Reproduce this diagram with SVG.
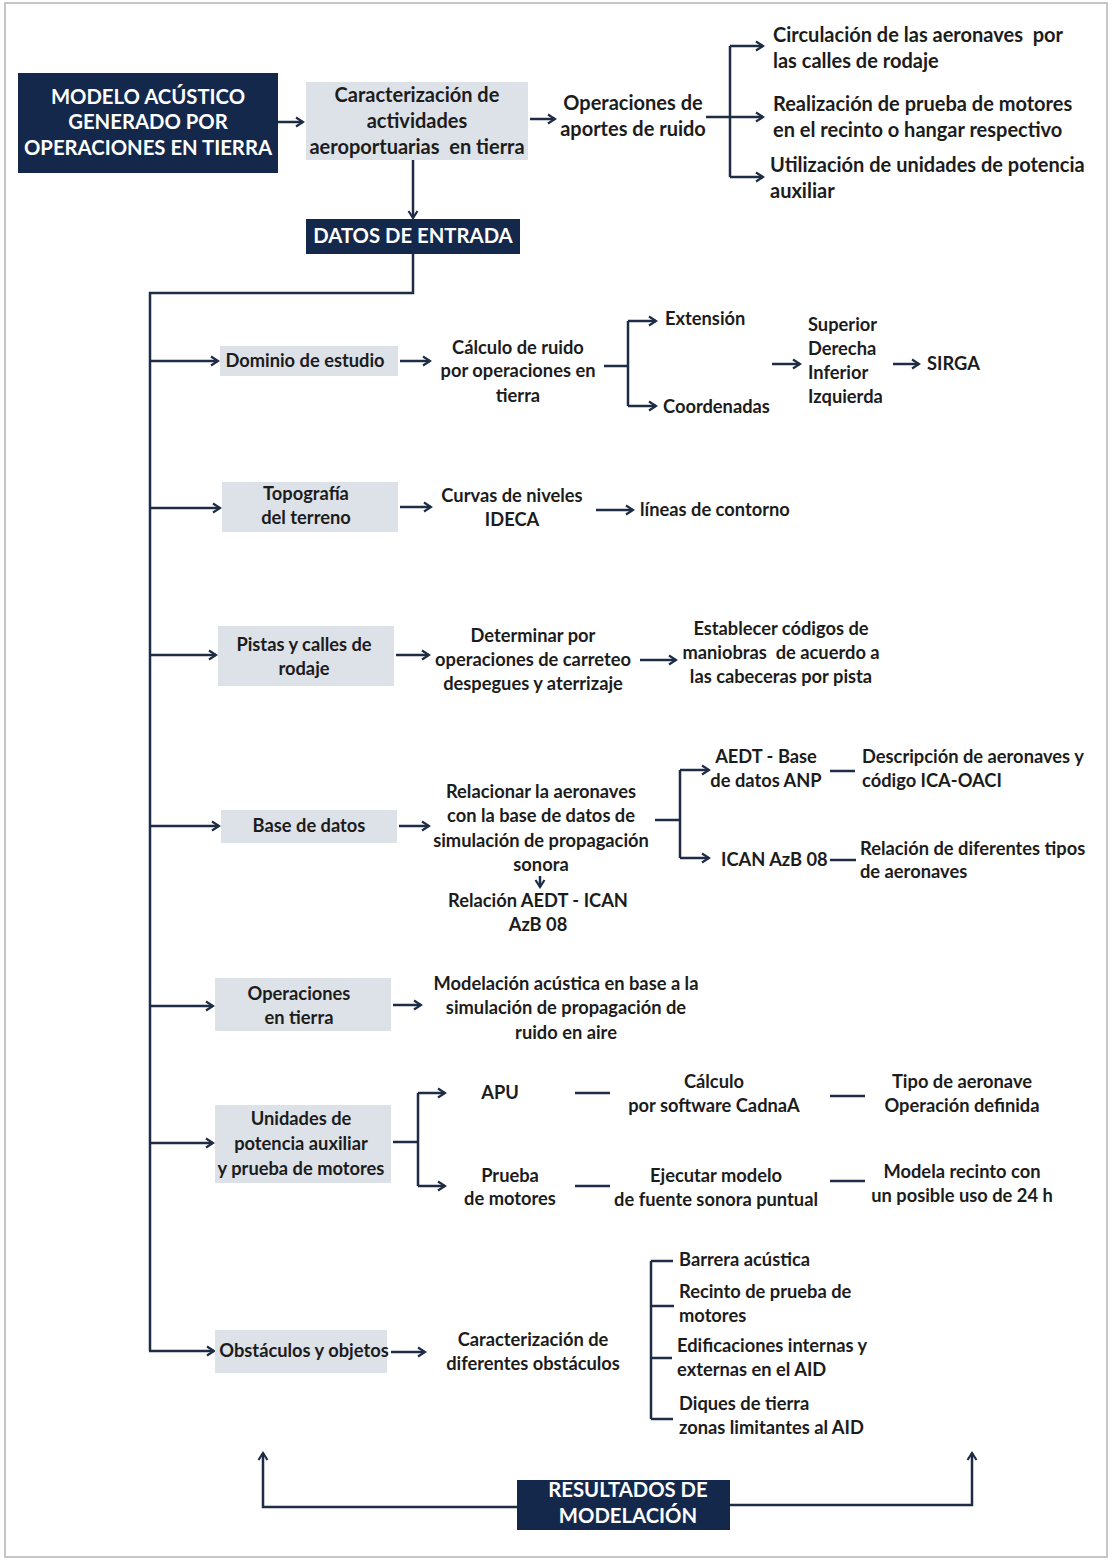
<svg xmlns="http://www.w3.org/2000/svg" width="1112" height="1562" viewBox="0 0 1112 1562">
<defs>
<marker id="ah" viewBox="0 0 12 12" refX="10" refY="6" markerWidth="12" markerHeight="12" markerUnits="userSpaceOnUse" orient="auto">
<path d="M3,1.5 L10,6 L3,10.5" fill="none" stroke="#1e2d45" stroke-width="2.2" stroke-linejoin="miter"/>
</marker>
<style>
text{font-family:Lato,"Open Sans","Liberation Sans",sans-serif;font-weight:700;font-size:18.3px;fill:#1c1c1c}
.t{font-size:20px}
.w{fill:#ffffff;font-size:20.3px}
.c{text-anchor:middle}
.p{white-space:pre}
.navy{fill:#14284b}
.grey{fill:#dde1e8}
.ln{fill:none;stroke:#1e2d45;stroke-width:2.5}
.ar{fill:none;stroke:#1e2d45;stroke-width:2.5;marker-end:url(#ah)}
</style>
</defs>
<rect x="0" y="0" width="1112" height="1562" fill="#ffffff"/>
<rect x="5" y="3" width="1102" height="1554" fill="none" stroke="#b4b4b4" stroke-width="1.5"/>

<g id="connectors">
<path class="ar" d="M278,122 H303"/>
<path class="ar" d="M530,119 H555"/>
<path class="ln" d="M706,117 H730 M730,46 V177"/>
<path class="ar" d="M730,46 H763"/>
<path class="ar" d="M730,117 H763"/>
<path class="ar" d="M730,177 H763"/>
<path class="ar" d="M413,160 V218"/>
<path class="ln" d="M413,254 V293 H150 V1351"/>
<path class="ar" d="M150,361 H218"/>
<path class="ar" d="M150,508 H220"/>
<path class="ar" d="M150,655 H216"/>
<path class="ar" d="M150,826 H219"/>
<path class="ar" d="M150,1006 H213"/>
<path class="ar" d="M150,1143 H213"/>
<path class="ar" d="M149,1351 H214"/>
<path class="ar" d="M400,361 H430"/>
<path class="ln" d="M604,366 H628 M628,321 V406"/>
<path class="ar" d="M628,321 H656"/>
<path class="ar" d="M628,406 H656"/>
<path class="ar" d="M772,364 H800"/>
<path class="ar" d="M893,364 H919"/>
<path class="ar" d="M400,507 H431"/>
<path class="ar" d="M596,510 H633"/>
<path class="ar" d="M396,655 H429"/>
<path class="ar" d="M640,660 H676"/>
<path class="ar" d="M399,826 H429"/>
<path class="ar" d="M540,876 V887"/>
<path class="ln" d="M655,820 H680 M680,770 V858"/>
<path class="ar" d="M680,770 H709"/>
<path class="ar" d="M680,858 H709"/>
<path class="ln" d="M830,771 H855 M830,860 H856"/>
<path class="ar" d="M393,1005 H421"/>
<path class="ln" d="M393,1142 H418 M418,1093 V1186"/>
<path class="ar" d="M418,1093 H445"/>
<path class="ar" d="M418,1186 H445"/>
<path class="ln" d="M575,1093 H610 M575,1186 H610 M830,1096 H865 M830,1181 H865"/>
<path class="ar" d="M391,1352 H425"/>
<path class="ln" d="M651,1261 V1419 M651,1261 H673 M651,1306 H674 M651,1358 H672 M651,1419 H673"/>
<path class="ar" d="M517,1507 H263 V1453"/>
<path class="ar" d="M730,1505 H972 V1453"/>
</g>

<g id="title">
<rect class="navy" x="18" y="73" width="260" height="100"/>
<text class="w c" x="148" y="104">MODELO ACÚSTICO</text>
<text class="w c" x="148" y="129">GENERADO POR</text>
<text class="w c" x="148" y="155">OPERACIONES EN TIERRA</text>
</g>
<g id="caracterizacion">
<rect class="grey" x="306" y="82" width="222" height="78"/>
<text class="t c" x="417" y="102">Caracterización de</text>
<text class="t c" x="417" y="128">actividades</text>
<text class="t c p" x="417" y="154">aeroportuarias  en tierra</text>
</g>
<g id="operaciones-aportes">
<text class="t c" x="633" y="110">Operaciones de</text>
<text class="t c" x="633" y="136">aportes de ruido</text>
</g>
<g id="circulacion">
<text class="t p" x="773" y="42">Circulación de las aeronaves  por</text>
<text class="t" x="773" y="68">las calles de rodaje</text>
</g>
<g id="realizacion">
<text class="t" x="773" y="111">Realización de prueba de motores</text>
<text class="t" x="773" y="137">en el recinto o hangar respectivo</text>
</g>
<g id="utilizacion">
<text class="t" x="770" y="172">Utilización de unidades de potencia</text>
<text class="t" x="770" y="198">auxiliar</text>
</g>
<g id="datos-entrada">
<rect class="navy" x="306" y="219" width="214" height="35"/>
<text class="w c" x="413" y="243">DATOS DE ENTRADA</text>
</g>

<g id="dominio">
<rect class="grey" x="220" y="346" width="178" height="30"/>
<text class="c" x="305" y="367">Dominio de estudio</text>
</g>
<g id="calculo-ruido">
<text class="c" x="518" y="354">Cálculo de ruido</text>
<text class="c" x="518" y="377">por operaciones en</text>
<text class="c" x="518" y="402">tierra</text>
</g>
<g id="extension"><text x="665" y="325">Extensión</text></g>
<g id="coordenadas"><text x="663" y="413">Coordenadas</text></g>
<g id="direcciones">
<text x="808" y="331">Superior</text>
<text x="808" y="355">Derecha</text>
<text x="808" y="379">Inferior</text>
<text x="808" y="403">Izquierda</text>
</g>
<g id="sirga"><text x="927" y="370">SIRGA</text></g>

<g id="topografia">
<rect class="grey" x="222" y="482" width="176" height="50"/>
<text class="c" x="306" y="500">Topografía</text>
<text class="c" x="306" y="524">del terreno</text>
</g>
<g id="curvas">
<text class="c" x="512" y="502">Curvas de niveles</text>
<text class="c" x="512" y="526">IDECA</text>
</g>
<g id="lineas-contorno"><text x="640" y="516">líneas de contorno</text></g>

<g id="pistas">
<rect class="grey" x="218" y="626" width="176" height="60"/>
<text class="c" x="304" y="651">Pistas y calles de</text>
<text class="c" x="304" y="675">rodaje</text>
</g>
<g id="determinar">
<text class="c" x="533" y="642">Determinar por</text>
<text class="c" x="533" y="666">operaciones de carreteo</text>
<text class="c" x="533" y="690">despegues y aterrizaje</text>
</g>
<g id="establecer">
<text class="c" x="781" y="635">Establecer códigos de</text>
<text class="c p" x="781" y="659">maniobras  de acuerdo a</text>
<text class="c" x="781" y="683">las cabeceras por pista</text>
</g>

<g id="base-datos">
<rect class="grey" x="221" y="810" width="176" height="33"/>
<text class="c" x="309" y="832">Base de datos</text>
</g>
<g id="relacionar">
<text class="c" x="541" y="798">Relacionar la aeronaves</text>
<text class="c" x="541" y="822">con la base de datos de</text>
<text class="c" x="541" y="847">simulación de propagación</text>
<text class="c" x="541" y="871">sonora</text>
</g>
<g id="relacion-aedt">
<text class="c" x="538" y="907">Relación AEDT - ICAN</text>
<text class="c" x="538" y="931">AzB 08</text>
</g>
<g id="aedt">
<text class="c" x="766" y="763">AEDT - Base</text>
<text class="c" x="766" y="787">de datos ANP</text>
</g>
<g id="descripcion">
<text x="862" y="763">Descripción de aeronaves y</text>
<text x="862" y="787">código ICA-OACI</text>
</g>
<g id="ican"><text x="721" y="866">ICAN AzB 08</text></g>
<g id="relacion-tipos">
<text x="860" y="855">Relación de diferentes tipos</text>
<text x="860" y="878">de aeronaves</text>
</g>

<g id="operaciones-tierra">
<rect class="grey" x="215" y="978" width="176" height="53"/>
<text class="c" x="299" y="1000">Operaciones</text>
<text class="c" x="299" y="1024">en tierra</text>
</g>
<g id="modelacion">
<text class="c" x="566" y="990">Modelación acústica en base a la</text>
<text class="c" x="566" y="1014">simulación de propagación de</text>
<text class="c" x="566" y="1039">ruido en aire</text>
</g>

<g id="unidades">
<rect class="grey" x="215" y="1105" width="176" height="78"/>
<text class="c" x="301" y="1125">Unidades de</text>
<text class="c" x="301" y="1150">potencia auxiliar</text>
<text class="c" x="301" y="1175">y prueba de motores</text>
</g>
<g id="apu"><text class="c" x="500" y="1099">APU</text></g>
<g id="calculo-cadna">
<text class="c" x="714" y="1088">Cálculo</text>
<text class="c" x="714" y="1112">por software CadnaA</text>
</g>
<g id="tipo-aeronave">
<text class="c" x="962" y="1088">Tipo de aeronave</text>
<text class="c" x="962" y="1112">Operación definida</text>
</g>
<g id="prueba-motores">
<text class="c" x="510" y="1182">Prueba</text>
<text class="c" x="510" y="1205">de motores</text>
</g>
<g id="ejecutar">
<text class="c" x="716" y="1182">Ejecutar modelo</text>
<text class="c" x="716" y="1206">de fuente sonora puntual</text>
</g>
<g id="modela-recinto">
<text class="c" x="962" y="1178">Modela recinto con</text>
<text class="c" x="962" y="1202">un posible uso de 24 h</text>
</g>

<g id="obstaculos">
<rect class="grey" x="215" y="1330" width="172" height="43"/>
<text class="c" x="304" y="1357">Obstáculos y objetos</text>
</g>
<g id="caracterizacion-obstaculos">
<text class="c" x="533" y="1346">Caracterización de</text>
<text class="c" x="533" y="1370">diferentes obstáculos</text>
</g>
<g id="barrera"><text x="679" y="1266">Barrera acústica</text></g>
<g id="recinto">
<text x="679" y="1298">Recinto de prueba de</text>
<text x="679" y="1322">motores</text>
</g>
<g id="edificaciones">
<text x="677" y="1352">Edificaciones internas y</text>
<text x="677" y="1376">externas en el AID</text>
</g>
<g id="diques">
<text x="679" y="1410">Diques de tierra</text>
<text x="679" y="1434">zonas limitantes al AID</text>
</g>

<g id="resultados">
<rect class="navy" x="517" y="1480" width="213" height="50"/>
<text class="w c" x="628" y="1497">RESULTADOS DE</text>
<text class="w c" x="628" y="1523">MODELACIÓN</text>
</g>
</svg>
